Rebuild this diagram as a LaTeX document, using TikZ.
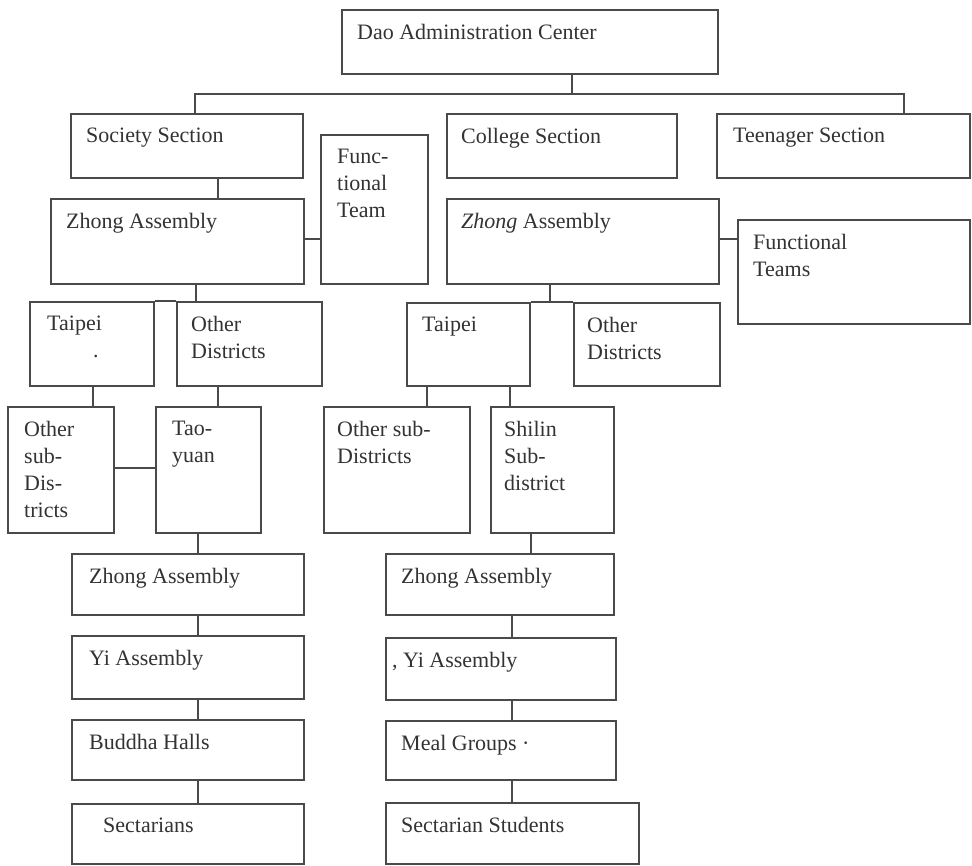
\documentclass[tikz,border=0pt]{standalone}
\usepackage{fontspec}
\setmainfont{Liberation Serif}
\definecolor{ln}{HTML}{4A4A4A}
\definecolor{tx}{HTML}{333333}
\tikzset{
  boxst/.style={draw=ln, line width=2.4pt, rectangle, inner sep=0pt, fill=white},
  conn/.style={draw=ln, line width=1.6pt},
  txt/.style={anchor=north west, inner sep=0pt, align=left, text=tx,
    font=\fontsize{22}{27}\selectfont, yshift=-15pt}
}
\newcommand{\bx}[7]{%
  \pgfmathsetmacro\bw{#4-#2}\pgfmathsetmacro\bh{#5-#3}%
  \node[boxst, minimum width=\bw pt, minimum height=\bh pt, anchor=north west,
    label={[txt, xshift=#6pt]north west:{#7}}] (#1) at (#2,#3) {};}
\begin{document}
\begin{tikzpicture}[x=1pt, y=-1pt]
\useasboundingbox (0,0) rectangle (972,866);
% boxes
\bx{dao}{341}{9}{717}{73}{16}{Dao Administration Center}
\bx{soc}{70}{113}{302}{177}{16}{Society Section}
\bx{ft}{320}{134}{427}{283}{17}{Func-\\tional\\Team}
\bx{col}{446}{113}{676}{177}{15}{College Section}
\bx{teen}{716}{113}{969}{177}{17}{Teenager Section}
\bx{zl}{50}{198}{303}{283}{16}{Zhong Assembly}
\bx{zr}{446}{198}{718}{283}{15}{\textit{Zhong} Assembly}
\bx{fts}{737}{219}{969}{323}{16}{Functional\\Teams}
\bx{tpl}{29}{301}{153}{385}{18}{Taipei\\\hspace*{46pt}.}
\bx{odl}{176}{301}{321}{385}{15}{Other\\Districts}
\bx{tpr}{406}{302}{529}{385}{16}{Taipei}
\bx{odr}{573}{302}{719}{385}{14}{Other\\Districts}
\bx{osl}{7}{406}{113}{532}{17}{Other\\sub-\\Dis-\\tricts}
\bx{tao}{155}{406}{260}{532}{17}{Tao-\\yuan}
\bx{osr}{323}{406}{469}{532}{14}{Other sub-\\Districts}
\bx{shl}{490}{406}{613}{532}{14}{Shilin\\Sub-\\district}
\bx{zal}{71}{553}{303}{614}{18}{Zhong Assembly}
\bx{yil}{71}{635}{303}{698}{18}{Yi Assembly}
\bx{bud}{71}{719}{303}{779}{18}{Buddha Halls}
\bx{sec}{71}{803}{303}{863}{32}{Sectarians}
\bx{zar}{385}{553}{613}{614}{16}{Zhong Assembly}
\bx{yir}{385}{637}{615}{699}{7}{, Yi Assembly}
\bx{meal}{385}{720}{615}{779}{16}{Meal Groups ·}
\bx{secs}{385}{802}{638}{863}{16}{Sectarian Students}
% junction coordinates
\coordinate (bar) at (572,94);
\coordinate (barL) at (195,94);
\coordinate (barR) at (904,94);
\coordinate (xa) at (218,0);
\coordinate (ya) at (0,239);
\coordinate (xb) at (196,0);
\coordinate (xc) at (550,0);
\coordinate (xd) at (93,0);
\coordinate (xe) at (218,0);
\coordinate (yb) at (0,468);
\coordinate (xf) at (198,0);
\coordinate (xg) at (427,0);
\coordinate (xh) at (510,0);
\coordinate (xi) at (531,0);
\coordinate (xj) at (512,0);
% connectors
\draw[conn] (dao.south -| bar) -- (bar);
\draw[conn] (soc.north -| barL) -- (barL) -- (barR) -- (teen.north -| barR);
\draw[conn] (soc.south -| xa) -- (zl.north -| xa);
\draw[conn] (zl.east |- ya) -- (ft.west |- ya);
\draw[conn] (zr.east |- ya) -- (fts.west |- ya);
\draw[conn] (zl.south -| xb) -- (odl.north -| xb);
\draw[conn] (tpl.north east) -- (odl.north west);
\draw[conn] (zr.south -| xc) -- (odr.north -| xc);
\draw[conn] (tpr.north east) -- (odr.north west);
\draw[conn] (tpl.south -| xd) -- (osl.north -| xd);
\draw[conn] (odl.south -| xe) -- (tao.north -| xe);
\draw[conn] (osl.east |- yb) -- (tao.west |- yb);
\draw[conn] (tao.south -| xf) -- (zal.north -| xf);
\draw[conn] (zal.south -| xf) -- (yil.north -| xf);
\draw[conn] (yil.south -| xf) -- (bud.north -| xf);
\draw[conn] (bud.south -| xf) -- (sec.north -| xf);
\draw[conn] (tpr.south -| xg) -- (osr.north -| xg);
\draw[conn] (tpr.south -| xh) -- (shl.north -| xh);
\draw[conn] (shl.south -| xi) -- (zar.north -| xi);
\draw[conn] (zar.south -| xj) -- (yir.north -| xj);
\draw[conn] (yir.south -| xj) -- (meal.north -| xj);
\draw[conn] (meal.south -| xj) -- (secs.north -| xj);
\end{tikzpicture}
\end{document}
